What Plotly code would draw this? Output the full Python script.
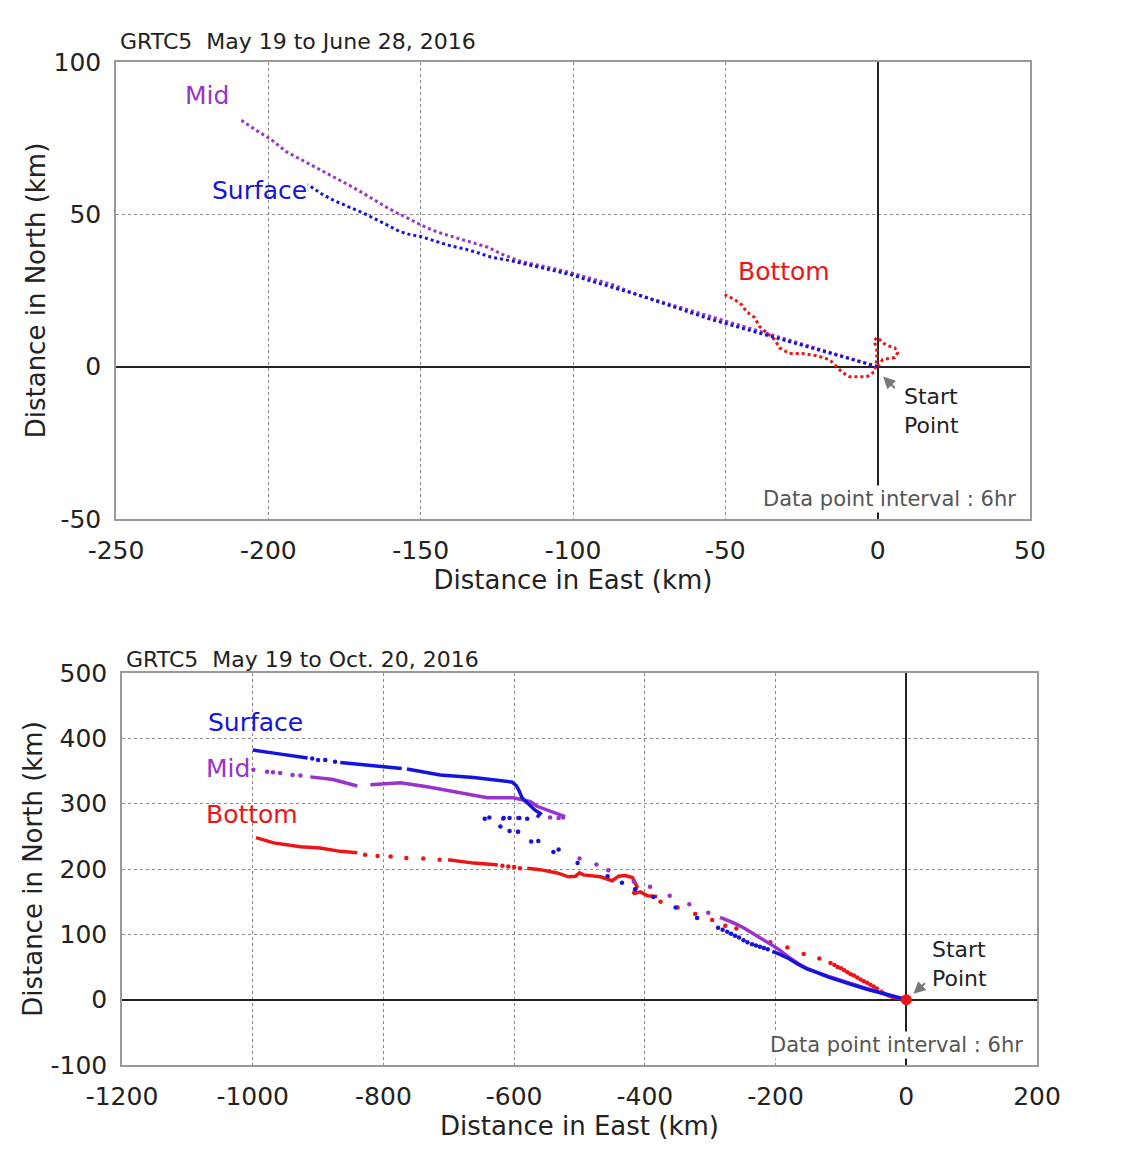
import plotly.graph_objects as go

# ---------------- DATA: top chart (May 19 to June 28, 2016) ----------------
top_surface_x = [0, -5, -10, -15, -20, -25, -30, -35, -40, -45, -50, -55, -60, -65, -70, -75, -80, -85, -90, -95,
                 -100, -105, -110, -115, -120, -124, -127, -131, -135, -140, -145, -150, -154, -157, -161, -165,
                 -169, -174, -179, -183, -187]
top_surface_y = [0, 1.4, 2.8, 4.2, 5.6, 7.0, 8.4, 9.8, 11.2, 12.6, 14.0, 15.6, 17.3, 19.0, 20.7, 22.4, 24.0, 25.4,
                 26.8, 28.4, 30.0, 31.3, 32.4, 33.5, 34.7, 35.4, 36.0, 37.3, 38.5, 39.6, 41.2, 42.7, 43.5, 44.4,
                 46.5, 48.5, 50.5, 52.6, 54.8, 57.0, 59.8]

top_mid_x = [0, -5, -10, -15, -20, -25, -30, -35, -40, -45, -50, -55, -60, -65, -70, -75, -80, -87, -94, -101,
             -109, -117, -123, -128, -134, -140, -144, -148, -152, -155, -158, -161, -165, -169, -173, -178, -183,
             -189, -194, -199, -204, -209]
top_mid_y = [0, 1.5, 3.0, 4.5, 6.0, 7.5, 9.0, 10.5, 12.0, 13.4, 14.8, 16.3, 17.9, 19.4, 20.9, 22.4, 24.0, 26.9,
             29.0, 30.9, 32.8, 34.5, 36.8, 39.2, 41.0, 42.7, 44.0, 45.6, 47.5, 48.9, 50.6, 52.2, 54.7, 57.0, 59.3,
             62.0, 64.5, 67.9, 70.5, 74.5, 77.6, 81.0]

top_bottom_x = [0, 1.6, 5.6, 6.6, 5.6, 3.3, 1.6, 0, -1.2, -0.3, -0.3, -1.0, -3.6, -9.2, -11.5, -13.5, -15.8, -20,
                -24.6, -28.9, -32.2, -33.8, -36.4, -38.7, -40.4, -43, -44.6, -46.9, -50.2]
top_bottom_y = [0, 2.3, 3.0, 4.6, 6.2, 6.9, 7.9, 9.6, 8.6, 5.6, 2.3, -1.6, -3.3, -3.3, -2.0, 0, 2.3, 3.6, 4.3, 4.3,
                6.2, 8.9, 11.2, 13.1, 16.1, 18.0, 20.3, 22.0, 23.6]

# ---------------- DATA: bottom chart (May 19 to Oct. 20, 2016) ----------------
# dense track segments (None separates segments) and isolated 6-hourly points
bot_surface_track_x = [0, -20, -40, -60, -80, -100, -120, -140, -152, -165, -180, -195, -205, None,
                       -565, -560, -568, -575, -580, -588, -593, -597, -603, -621, -662, -713, -764, None,
                       -772, -800, -830, -866, None,
                       -916, -940, -965, -1000]
bot_surface_track_y = [0, 5, 10, 16, 22, 28, 35, 43, 47, 54, 63, 70, 74, None,
                       279, 285, 290, 297, 301, 309, 321, 328, 333, 335, 340, 344, 353, None,
                       354, 357, 360, 363, None,
                       370, 374, 377, 382]
bot_surface_dots_x = [-212, -218, -224, -230, -236, -243, -249, -256, -262, -268, -274, -281, -288,
                      -320, -353, -387, -415, -435, -457, -503, -532, -540, -563, -574, -594, -607, -621,
                      -645, -638, -616, -607, -592, -580, -874, -889, -900, -909]
bot_surface_dots_y = [77, 79, 81, 83, 85, 88, 91, 95, 98, 101, 104, 107, 110,
                      125, 141, 157, 169, 179, 189, 209, 230, 226, 243, 242, 257, 258, 265,
                      277, 279, 278, 278, 278, 277, 364, 367, 367, 369]

bot_mid_track_x = [0, -20, -40, -60, -80, -100, -120, -140, -152, -165, -180, -195, -213, -228, -249, -265, -285, None,
                   -522, -545, -565, -575, -601, -641, -687, -733, -774, -820, None,
                   -840, -877, -912]
bot_mid_track_y = [0, 5, 11, 17, 23, 29, 36, 43, 48, 55, 65, 77, 88, 97, 110, 118, 126, None,
                   280, 288, 296, 303, 309, 309, 318, 326, 332, 329, None,
                   327, 337, 341]
bot_mid_dots_x = [-303, -332, -362, -392, -417, -456, -474, -500, -594, -617, -594, -545, -532, -525,
                  -927, -939, -958, -969, -978, -999]
bot_mid_dots_y = [133, 146, 159, 173, 181, 198, 207, 216, 257, 277, 278, 279, 278, 279,
                  343, 344, 347, 348, 349, 352]

bot_bottom_track_x = [0, -10, -22, -32, -40, None,
                      -381, -396, -407, -418, -412, -419, -430, -440, -450, -468, -494, -500, -506, -517, -534,
                      -560, -580, None,
                      -625, -632, -662, -701, None,
                      -840, -866, -897, -927, -968, -995]
bot_bottom_track_y = [0, 2, 4, 8, 14, None,
                      158, 159, 165, 162, 173, 187, 190, 189, 182, 188, 191, 194, 189, 188, 194,
                      199, 201, None,
                      206, 207, 209, 214, None,
                      225, 227, 232, 234, 240, 248]
bot_bottom_dots_x = [-45, -50, -55, -60, -65, -70, -75, -80, -85, -90, -95, -100, -105, -110, -116,
                     -133, -157, -182, -208, -260, -277, -297, -323, -350, -376,
                     -591, -600, -609, -618, -714, -739, -765, -789, -809, -828]
bot_bottom_dots_y = [17, 20, 23, 26, 28, 31, 34, 37, 39, 42, 45, 48, 50, 53, 56,
                     63, 70, 80, 88, 109, 113, 122, 131, 141, 150,
                     201, 203, 204, 205, 214, 216, 217, 219, 220, 222]

start_x = [0]
start_y = [0]

# axis ticks
top_x_ticks = [-250, -200, -150, -100, -50, 0, 50]
top_x_labels = ["-250", "-200", "-150", "-100", "-50", "0", "50"]
top_y_ticks = [-50, 0, 50, 100]
top_y_labels = ["-50", "0", "50", "100"]
bot_x_ticks = [-1200, -1000, -800, -600, -400, -200, 0, 200]
bot_x_labels = ["-1200", "-1000", "-800", "-600", "-400", "-200", "0", "200"]
bot_y_ticks = [-100, 0, 100, 200, 300, 400, 500]
bot_y_labels = ["-100", "0", "100", "200", "300", "400", "500"]

# ---------------- STYLE ----------------
BLUE = "#1414DC"
PURPLE = "#9933CC"
RED = "#EC1515"
FONT = "DejaVu Sans"
W, H = 1135, 1164
OFF = 8  # page body margin of the html page


def dom_x(l, r):
    return [(l - OFF) / W, (r - OFF) / W]


def dom_y(t, b):
    return [1 - (b - OFF) / H, 1 - (t - OFF) / H]


fig = go.Figure()

# top chart traces
for xs, ys, c in [(top_bottom_x, top_bottom_y, RED), (top_mid_x, top_mid_y, PURPLE),
                  (top_surface_x, top_surface_y, BLUE)]:
    fig.add_trace(go.Scatter(x=xs, y=ys, mode="lines", xaxis="x", yaxis="y",
                             line=dict(color=c, width=3, dash="3px,3px"),
                             showlegend=False, hoverinfo="skip"))

# bottom chart traces
for tx, ty, dx, dy, c in [(bot_bottom_track_x, bot_bottom_track_y, bot_bottom_dots_x, bot_bottom_dots_y, RED),
                          (bot_mid_track_x, bot_mid_track_y, bot_mid_dots_x, bot_mid_dots_y, PURPLE),
                          (bot_surface_track_x, bot_surface_track_y, bot_surface_dots_x, bot_surface_dots_y, BLUE)]:
    fig.add_trace(go.Scatter(x=tx, y=ty, mode="lines", xaxis="x2", yaxis="y2",
                             line=dict(color=c, width=3.5), connectgaps=False,
                             showlegend=False, hoverinfo="skip"))
    fig.add_trace(go.Scatter(x=dx, y=dy, mode="markers", xaxis="x2", yaxis="y2",
                             marker=dict(color=c, size=4.5), showlegend=False, hoverinfo="skip"))

fig.add_trace(go.Scatter(x=start_x, y=start_y, mode="markers", xaxis="x2", yaxis="y2",
                         marker=dict(color=RED, size=11), showlegend=False, hoverinfo="skip"))

axis_common = dict(showgrid=True, griddash="dot", gridcolor="#8a8a8a", gridwidth=1,
                   zeroline=True, zerolinecolor="#222", zerolinewidth=1.6,
                   showline=True, mirror=True, linecolor="#999", linewidth=1.5,
                   ticks="", tickfont=dict(family=FONT, size=25, color="#222"),
                   automargin=False, fixedrange=True)
title_font = dict(family=FONT, size=26, color="#222")

fig.update_layout(
    width=W, height=H,
    margin=dict(l=0, r=0, t=0, b=0),
    paper_bgcolor="white", plot_bgcolor="white",
    xaxis=dict(domain=dom_x(116, 1030), range=[-250, 50], tickvals=top_x_ticks, ticktext=top_x_labels,
               anchor="y", title=dict(text="Distance in East (km)", font=title_font, standoff=6),
               ticklabelstandoff=8, **axis_common),
    yaxis=dict(domain=dom_y(62, 519), range=[-50, 100], tickvals=top_y_ticks, ticktext=top_y_labels,
               anchor="x", title=dict(text="Distance in North (km)", font=title_font, standoff=0),
               ticklabelstandoff=8, **axis_common),
    xaxis2=dict(domain=dom_x(122, 1037), range=[-1200, 200], tickvals=bot_x_ticks, ticktext=bot_x_labels,
                anchor="y2", title=dict(text="Distance in East (km)", font=title_font, standoff=6),
                ticklabelstandoff=8, **axis_common),
    yaxis2=dict(domain=dom_y(673, 1065), range=[-100, 500], tickvals=bot_y_ticks, ticktext=bot_y_labels,
                anchor="x2", title=dict(text="Distance in North (km)", font=title_font, standoff=0),
                ticklabelstandoff=8, **axis_common),
)

ann = []
# chart titles
ann.append(dict(text="GRTC5\u00a0 May 19 to June 28, 2016", xref="x domain", yref="y domain",
                x=0.002, y=1.0438, xanchor="left", yanchor="middle", showarrow=False,
                font=dict(family=FONT, size=22, color="#222")))
ann.append(dict(text="GRTC5\u00a0 May 19 to Oct. 20, 2016", xref="x2 domain", yref="y2 domain",
                x=0.002, y=1.0357, xanchor="left", yanchor="middle", showarrow=False,
                font=dict(family=FONT, size=22, color="#222")))
# series labels
lab_font = lambda c: dict(family=FONT, size=25, color=c)
ann += [
    dict(text="Mid", x=-228, y=89, xref="x", yref="y", xanchor="left", yanchor="middle",
         showarrow=False, font=lab_font(PURPLE)),
    dict(text="Surface", x=-219, y=57.8, xref="x", yref="y", xanchor="left", yanchor="middle",
         showarrow=False, font=lab_font(BLUE)),
    dict(text="Bottom", x=-46.6, y=31.2, xref="x", yref="y", xanchor="left", yanchor="middle",
         showarrow=False, font=lab_font(RED)),
    dict(text="Surface", x=-1072, y=424, xref="x2", yref="y2", xanchor="left", yanchor="middle",
         showarrow=False, font=lab_font(BLUE)),
    dict(text="Mid", x=-1075, y=353.6, xref="x2", yref="y2", xanchor="left", yanchor="middle",
         showarrow=False, font=lab_font(PURPLE)),
    dict(text="Bottom", x=-1074, y=283, xref="x2", yref="y2", xanchor="left", yanchor="middle",
         showarrow=False, font=lab_font(RED)),
]
# start point labels and arrows
sp_font = dict(family=FONT, size=22, color="#222")
ann += [
    dict(text="Start<br>Point", x=7.9, y=-14.4, xref="x", yref="y", xanchor="left", yanchor="middle",
         align="left", showarrow=False, font=sp_font),
    dict(text="", x=1.8, y=-3.2, xref="x", yref="y", ax=13, ay=13, axref="pixel", ayref="pixel",
         showarrow=True, arrowhead=2, arrowsize=1.2, arrowwidth=2, arrowcolor="#777"),
    dict(text="Start<br>Point", x=36.7, y=54.3, xref="x2", yref="y2", xanchor="left", yanchor="middle",
         align="left", showarrow=False, font=sp_font),
    dict(text="", x=11, y=9, xref="x2", yref="y2", ax=13, ay=-12, axref="pixel", ayref="pixel",
         showarrow=True, arrowhead=2, arrowsize=1.2, arrowwidth=2, arrowcolor="#777"),
]
# interval notes
note_font = dict(family=FONT, size=21, color="#555")
ann += [
    dict(text="Data point interval : 6hr", xref="x domain", yref="y domain", x=0.987, y=0.044,
         xanchor="right", yanchor="middle", showarrow=False, font=note_font, bgcolor="white"),
    dict(text="Data point interval : 6hr", xref="x2 domain", yref="y2 domain", x=0.987, y=0.051,
         xanchor="right", yanchor="middle", showarrow=False, font=note_font, bgcolor="white"),
]
fig.update_layout(annotations=ann)

fig.write_html("out.html")
